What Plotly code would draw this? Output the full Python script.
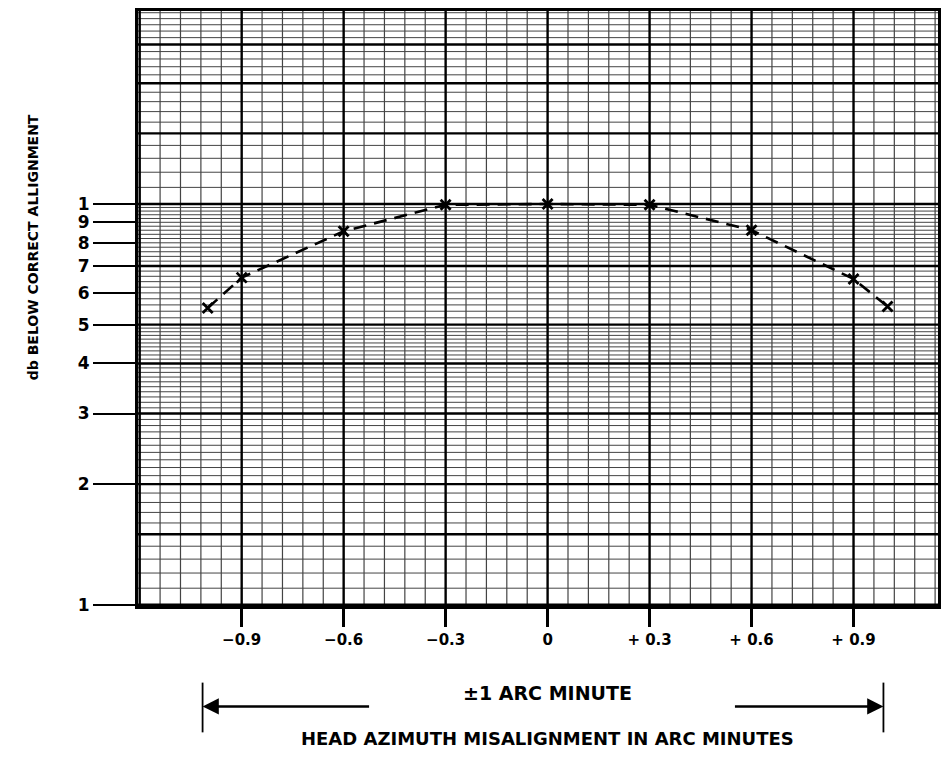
import numpy as np
import plotly.graph_objects as go

# ---- data ----
misalignment = [-1.0, -0.9, -0.6, -0.3, 0.0, 0.3, 0.6, 0.9, 1.0]
db_level = [5.5, 6.55, 8.55, 9.95, 10.0, 9.95, 8.6, 6.5, 5.55]

x_tick_vals = [-0.9, -0.6, -0.3, 0.0, 0.3, 0.6, 0.9]
x_tick_text = ["\u22120.9", "\u22120.6", "\u22120.3", "0", "+ 0.3", "+ 0.6", "+ 0.9"]
y_tick_vals = [1, 2, 3, 4, 5, 6, 7, 8, 9, 10]
y_tick_text = ["1", "2", "3", "4", "5", "6", "7", "8", "9", "1"]

# graph paper rulings
h_segments = [(1.0, 5.0, 0.1), (5.0, 10.0, 0.2), (10.0, 31.0, 1.0)]
h_heavy = [1, 1.5, 2, 3, 4, 5, 7, 10, 15, 20, 25]
v_step = 0.06
v_heavy_step = 0.3
arrow_span = [-1.015, 0.988]

X_RANGE = [-1.205, 1.1485]
Y_RANGE = [np.log10(0.993), np.log10(30.3)]

FONT = "DejaVu Sans"

# build ruling lines
hvals = []
for a, b, s in h_segments:
    n = int(round((b - a) / s))
    for i in range(n + 1):
        hvals.append(round(a + i * s, 3))
hvals = sorted(set(hvals))
h_thin = [v for v in hvals if not any(abs(v - h) < 1e-6 for h in h_heavy)]

vvals = [round(-1.2 + i * v_step, 4) for i in range(int(round(2.4 / v_step)) + 1)]
v_heavy = [v for v in vvals if abs(v / v_heavy_step - round(v / v_heavy_step)) < 1e-6]
v_thin = [v for v in vvals if v not in v_heavy]


def hlines(vals):
    xs, ys = [], []
    for v in vals:
        xs += [X_RANGE[0], X_RANGE[1], None]
        ys += [v, v, None]
    return xs, ys


def vlines(vals):
    xs, ys = [], []
    for v in vals:
        xs += [v, v, None]
        ys += [0.99, 31, None]
    return xs, ys


fig = go.Figure()
for vals, fn, w, c in [(h_thin, hlines, 1, "#444"), (v_thin, vlines, 1.2, "#444"),
                       (h_heavy, hlines, 2.4, "#000"), (v_heavy, vlines, 2.4, "#000")]:
    xs, ys = fn(vals)
    fig.add_trace(go.Scatter(x=xs, y=ys, mode="lines", line=dict(color=c, width=w),
                             hoverinfo="skip", showlegend=False))

fig.add_trace(go.Scatter(
    x=misalignment, y=db_level, mode="lines+markers",
    line=dict(color="black", width=2.6, dash="13px,8px"),
    marker=dict(symbol="x-thin", size=10, line=dict(color="black", width=2.8)),
    showlegend=False))

fig.update_xaxes(range=X_RANGE, tickvals=x_tick_vals, ticktext=x_tick_text,
                 ticks="outside", ticklen=18, tickwidth=2.5, tickcolor="black",
                 showgrid=False, zeroline=False, showline=True, linecolor="black",
                 linewidth=3, mirror=True,
                 tickfont=dict(family=FONT, size=15, color="black", weight="bold"))
fig.update_yaxes(type="log", range=Y_RANGE, tickvals=y_tick_vals, ticktext=y_tick_text,
                 ticks="outside", ticklen=42, tickwidth=1.5, tickcolor="black",
                 showgrid=False, zeroline=False, showline=True, linecolor="black",
                 linewidth=3, mirror=True,
                 tickfont=dict(family=FONT, size=17, color="black", weight="bold"))

OFF = 8  # browser page margin around the plot div
W, H = 949 - 2 * OFF, 765 - 2 * OFF
L, R, T = 138 - OFF, 0, 8 - OFF
B = H - (606 - OFF)
pw, ph = W - L - R, H - T - B


def px(xp):
    return (xp - OFF - L) / pw


def py(yp):
    return (H - B - (yp - OFF)) / ph


bold = dict(family=FONT, color="black", weight="bold")

annotations = [
    dict(text="db BELOW CORRECT ALLIGNMENT", xref="paper", yref="paper",
         x=px(22), y=py(245), textangle=-90, showarrow=False,
         font=dict(size=14, **bold)),
    dict(text="\u00b11 ARC MINUTE", xref="x", yref="paper", x=0, y=py(707),
         showarrow=False, font=dict(size=19, **bold)),
    dict(text="HEAD AZIMUTH MISALIGNMENT IN ARC MINUTES", xref="x", yref="paper",
         x=0, y=py(752), showarrow=False, font=dict(size=18, **bold)),
    dict(text="", xref="x", yref="paper", x=arrow_span[0], y=py(707), axref="pixel",
         ax=168, ay=0, showarrow=True, arrowhead=2, arrowsize=1.3, arrowwidth=2.5,
         arrowcolor="black"),
    dict(text="", xref="x", yref="paper", x=arrow_span[1], y=py(707), axref="pixel",
         ax=-150, ay=0, showarrow=True, arrowhead=2, arrowsize=1.3, arrowwidth=2.5,
         arrowcolor="black"),
]

shapes = [dict(type="line", xref="x", yref="paper", x0=v, x1=v, y0=py(683), y1=py(733),
               line=dict(color="black", width=1.8)) for v in arrow_span]

fig.update_layout(width=W, height=H, margin=dict(l=L, r=R, t=T, b=B),
                  plot_bgcolor="white", paper_bgcolor="white",
                  annotations=annotations, shapes=shapes)

fig.write_html("out.html")
